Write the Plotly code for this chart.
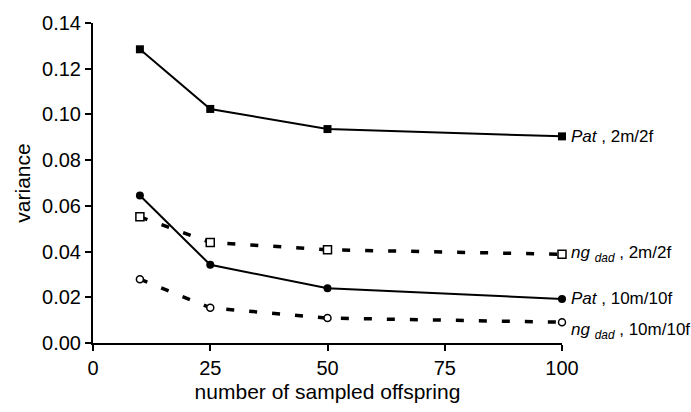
import plotly.graph_objects as go

offspring = [10, 25, 50, 100]
pat_2m2f = [0.1285, 0.1024, 0.0936, 0.0904]
pat_10m10f = [0.0645, 0.0342, 0.0240, 0.0193]
ngdad_2m2f = [0.0552, 0.0440, 0.0408, 0.0388]
ngdad_10m10f = [0.0279, 0.0154, 0.0109, 0.0091]

x_ticks = [0, 25, 50, 75, 100]
y_ticks = [0.00, 0.02, 0.04, 0.06, 0.08, 0.10, 0.12, 0.14]

font = "Liberation Sans, Arial, sans-serif"

fig = go.Figure()

series = [
    (ngdad_2m2f, dict(width=3.5, dash="8px,15px"), dict(symbol="square", size=8, color="white", line=dict(color="black", width=1.5)),
     "<i>ng</i> <sub><i>dad</i></sub> , 2m/2f", 0),
    (ngdad_10m10f, dict(width=3.5, dash="8px,15px"), dict(symbol="circle", size=7, color="white", line=dict(color="black", width=1.5)),
     "<i>ng</i> <sub><i>dad</i></sub> , 10m/10f", -9),
    (pat_2m2f, dict(width=2), dict(symbol="square", size=8, color="black", line=dict(color="black", width=0)),
     "<i>Pat</i> , 2m/2f", 0),
    (pat_10m10f, dict(width=2), dict(symbol="circle", size=8, color="black", line=dict(color="black", width=0)),
     "<i>Pat</i> , 10m/10f", 0),
]

for ys, ln, mk, label, ysh in series:
    fig.add_trace(go.Scatter(x=offspring, y=ys, mode="lines+markers",
                             line=dict(color="black", **ln), marker=mk,
                             showlegend=False, cliponaxis=False))
    fig.add_annotation(x=offspring[-1], y=ys[-1], xref="x", yref="y",
                       text=label, showarrow=False, xanchor="left",
                       yanchor="middle", xshift=7, yshift=ysh,
                       font=dict(size=17, color="black", family=font))

fig.update_layout(
    width=691, height=412,
    margin=dict(l=93, r=129, t=16, b=62),
    plot_bgcolor="white", paper_bgcolor="white",
    font=dict(family=font, size=20, color="black"),
)
fig.update_xaxes(range=[0, 100], tickvals=x_ticks, ticktext=[str(v) for v in x_ticks],
                 showgrid=False, zeroline=False, showline=True, linecolor="black",
                 linewidth=2, ticks="outside", ticklen=6, tickwidth=2, tickcolor="black",
                 title=dict(text="number of sampled offspring", standoff=6,
                            font=dict(size=21)))
fig.update_yaxes(range=[0, 0.14], tickvals=y_ticks, ticktext=[f"{v:.2f}" for v in y_ticks],
                 showgrid=False, zeroline=False, showline=True, linecolor="black",
                 linewidth=2, ticks="outside", ticklen=6, tickwidth=2, tickcolor="black",
                 title=dict(text="variance", standoff=6, font=dict(size=21)))

fig.write_html("out.html")
